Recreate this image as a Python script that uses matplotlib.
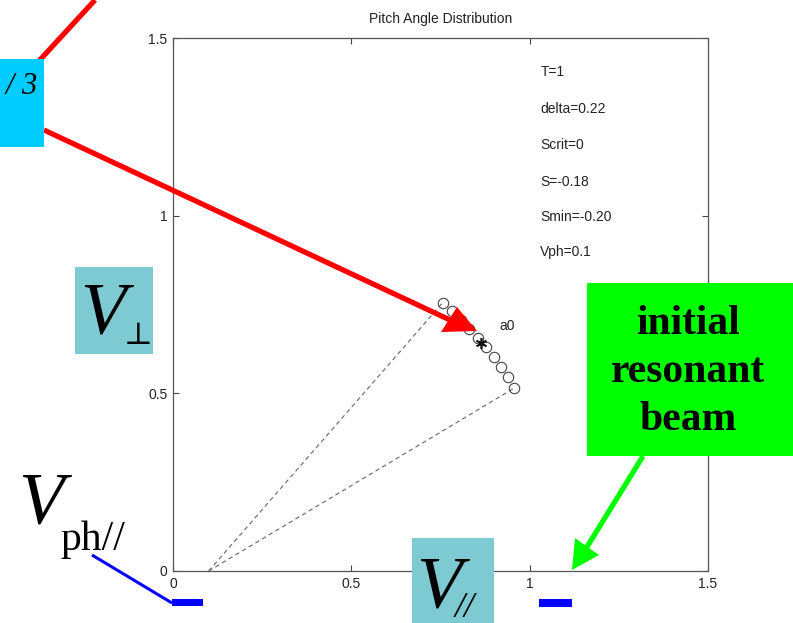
import matplotlib
matplotlib.use("Agg")
import matplotlib.pyplot as plt
from matplotlib.lines import Line2D
from matplotlib.patches import Polygon, Rectangle

# ---- data ----
vpar = [0.756, 0.782, 0.807, 0.831, 0.855, 0.877, 0.899, 0.919, 0.939, 0.957]
vperp = [0.755, 0.731, 0.707, 0.682, 0.656, 0.629, 0.602, 0.574, 0.545, 0.515]
star_x, star_y = [0.863], [0.641]
vph = 0.1
info_lines = ["T=1", "delta=0.22", "Scrit=0", "S=-0.18", "Smin=-0.20", "Vph=0.1"]
info_y = [1.404, 1.30, 1.198, 1.094, 0.996, 0.897]
ticks = [0, 0.5, 1, 1.5]
tick_labels = ["0", "0.5", "1", "1.5"]

W, H = 793, 623
fig = plt.figure(figsize=(W / 100, H / 100), dpi=100)
fig.patch.set_facecolor("white")

ax = fig.add_axes([173 / W, 1 - 571 / H, (708 - 173) / W, (571 - 38) / H])
sans = "Liberation Sans"
ax.set_xlim(0, 1.5)
ax.set_ylim(0, 1.5)
ax.set_xticks(ticks)
ax.set_yticks(ticks)
ax.set_xticklabels(tick_labels, family=sans, fontsize=10)
ax.set_yticklabels(tick_labels, family=sans, fontsize=10)
ax.tick_params(direction="in", length=4, width=0.8, color="#444444",
               top=True, right=True, pad=4, labelcolor="#222222")
for s in ax.spines.values():
    s.set_color("#555555")
    s.set_linewidth(0.9)
ax.set_title("Pitch Angle Distribution", family=sans, fontsize=10,
             color="#222222", pad=11)

# dashed lines from (Vph, 0) to extremes of the beam
ax.plot([vph, vpar[0]], [0, vperp[0]], ls=(0, (4, 3)), color="#666666", lw=0.8)
ax.plot([vph, vpar[-1]], [0, vperp[-1]], ls=(0, (4, 3)), color="#666666", lw=0.8)
ax.plot(vpar, vperp, ls="none", marker="o", ms=7.5, mfc="none",
        mec="#444444", mew=0.8)
ax.plot(star_x, star_y, ls="none", marker=(6, 2, 0), ms=8, mew=1.2,
        color="#111111")
ax.text(0.915, 0.69, "a0", family=sans, fontsize=10, color="#222222",
        va="center")
for t, y in zip(info_lines, info_y):
    ax.text(1.03, y, t, family=sans, fontsize=10, color="#222222", va="center")

# ---- overlay annotations in figure pixel coordinates ----
def P(x, y):
    return (x / W, 1 - y / H)

def line(pts, color, lw):
    xs = [P(*p)[0] for p in pts]
    ys = [P(*p)[1] for p in pts]
    fig.add_artist(Line2D(xs, ys, color=color, lw=lw, transform=fig.transFigure,
                          solid_capstyle="butt"))

def poly(pts, color, z=5):
    fig.add_artist(Polygon([P(*p) for p in pts], closed=True, color=color,
                           transform=fig.transFigure, zorder=z, lw=0))

def rect(x0, y0, x1, y1, color, z=4):
    fig.add_artist(Rectangle(P(x0, y1), (x1 - x0) / W, (y1 - y0) / H,
                             color=color, transform=fig.transFigure, zorder=z, lw=0))

serif = "Liberation Serif"

# red line to top-left and cyan box
line([(95, 0), (38, 62)], "red", 3.8)
line([(44, 130), (450, 320)], "red", 3.8)
poly([(441, 332), (457, 307), (477, 331)], "red")
rect(0, 59, 44, 147, "#00CCFF")
fig.text(*P(37, 94), "π / 3", family=serif, fontsize=22, style="italic",
         ha="right", va="baseline", color="black", zorder=6)

# V perp box
rect(75, 267, 153, 354, "#7ECAD2")
fig.text(*P(80, 334), "V", family=serif, fontsize=54, style="italic",
         ha="left", va="baseline", zorder=6)
fig.text(*P(124, 344), "⊥", family=["DejaVu Serif"], fontsize=22,
         ha="left", va="baseline", zorder=6)

# V parallel box
rect(412, 538, 494, 623, "#7ECAD2")
fig.text(*P(416, 608), "V", family=serif, fontsize=54, style="italic",
         ha="left", va="baseline", zorder=6)
fig.text(*P(455, 617), "//", family=serif, fontsize=26, style="italic",
         ha="left", va="baseline", zorder=6)

# V_ph// label with blue line
fig.text(*P(18, 524), "V", family=serif, fontsize=54, style="italic",
         ha="left", va="baseline", zorder=6)
fig.text(*P(60, 550), "ph//", family=serif, fontsize=30,
         ha="left", va="baseline", zorder=6)
line([(92, 555), (172, 603)], "blue", 2.2)
rect(172, 599, 203, 606, "blue")
rect(539, 599, 572, 607, "blue")

# green box and arrow
rect(587, 283, 793, 456, "#00FF00")
fig.text(*P(688, 372), "initial\nresonant\nbeam", family=serif, fontsize=30,
         weight="bold", ha="center", va="center", linespacing=1.35, zorder=6)
line([(643, 456), (587, 547)], "#00FF00", 3.8)
poly([(575, 538), (599, 555), (572, 570)], "#00FF00")

fig.savefig("out.png", dpi=100)
